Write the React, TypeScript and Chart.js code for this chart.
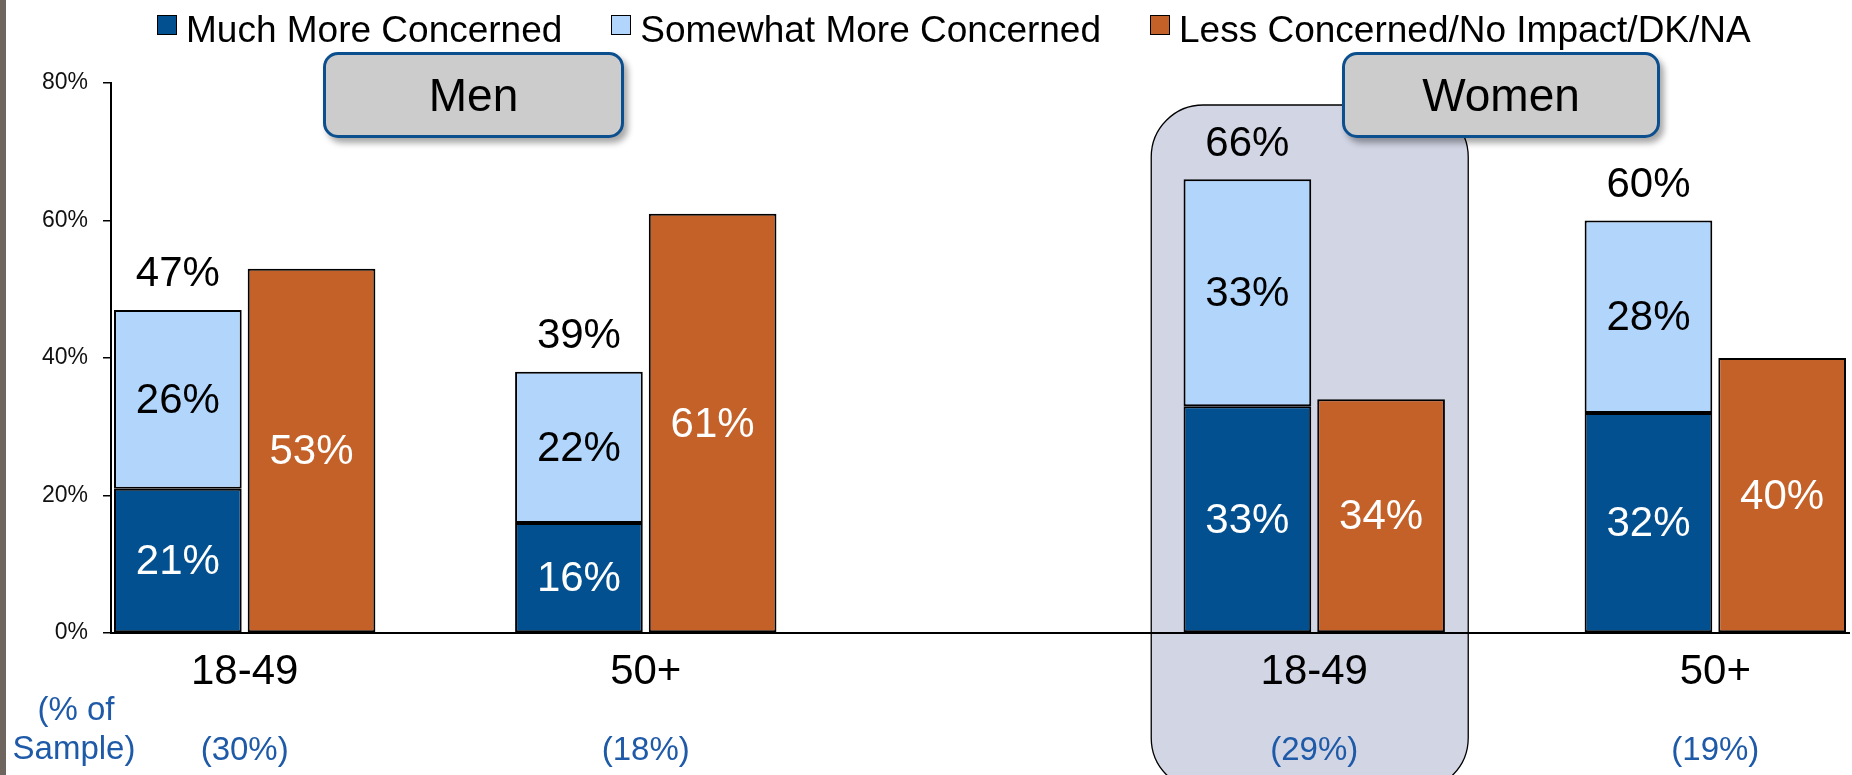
import React, { useEffect, useRef } from "react";
import { Chart, registerables } from "chart.js";

Chart.register(...registerables);

// ---------------- data ----------------
const categories = ["18-49", "50+", "18-49", "50+"];
const sampleShares = ["(30%)", "(18%)", "(29%)", "(19%)"];
const groupTitles = ["Men", "Women"];
const seriesNames = [
  "Much More Concerned",
  "Somewhat More Concerned",
  "Less Concerned/No Impact/DK/NA",
];
const muchMore = [21, 16, 33, 32];
const somewhatMore = [26, 22, 33, 28];
const lessConcerned = [53, 61, 34, 40];
const concernedTotals = [47, 39, 66, 60];
const yTickValues = [0, 20, 40, 60, 80];

// ---------------- styling ----------------
const FONT = '"Liberation Sans", Arial, Helvetica, sans-serif';
const colors = ["#02508f", "#b2d6fb", "#c46129"];
const labelColors = ["#ffffff", "#000000", "#ffffff"];
const SAMPLE_BLUE = "#1e5aa8";
const W = 1852;
const H = 775;

// slot layout: each bar occupies one category slot on the x axis
const EMPTY_BEFORE = [0, 1, 3, 1];
const stackSlot: number[] = [];
const lessSlot: number[] = [];
let slotCursor = 0;
categories.forEach((_, g) => {
  slotCursor += EMPTY_BEFORE[g];
  stackSlot.push(slotCursor);
  lessSlot.push(slotCursor + 1);
  slotCursor += 2;
});
const slotCount = slotCursor;
const slotLabels = Array.from({ length: slotCount }, (_, i) => String(i));

function spread(values: number[], slots: number[]) {
  const arr: (number | null)[] = Array(slotCount).fill(null);
  values.forEach((v, i) => (arr[slots[i]] = v));
  return arr;
}

const HIGHLIGHT_GROUP = 2;

const overlayPlugin = {
  id: "overlay",
  beforeDraw(chart: any) {
    const { ctx, scales } = chart;
    const x = scales.x;
    const cx =
      (x.getPixelForValue(stackSlot[HIGHLIGHT_GROUP]) +
        x.getPixelForValue(lessSlot[HIGHLIGHT_GROUP])) /
      2;
    const left = cx - 163;
    const right = cx + 154;
    const top = 105;
    const bottom = 790;
    const r = 52;
    ctx.save();
    ctx.beginPath();
    ctx.moveTo(left + r, top);
    ctx.lineTo(right - r, top);
    ctx.arcTo(right, top, right, top + r, r);
    ctx.lineTo(right, bottom - r);
    ctx.arcTo(right, bottom, right - r, bottom, r);
    ctx.lineTo(left + r, bottom);
    ctx.arcTo(left, bottom, left, bottom - r, r);
    ctx.lineTo(left, top + r);
    ctx.arcTo(left, top, left + r, top, r);
    ctx.closePath();
    ctx.fillStyle = "#d1d5e4";
    ctx.fill();
    ctx.lineWidth = 1.3;
    ctx.strokeStyle = "#000";
    ctx.stroke();
    ctx.restore();
  },
  afterDatasetsDraw(chart: any) {
    const { ctx, scales } = chart;
    const x = scales.x;
    ctx.save();
    ctx.textAlign = "center";
    ctx.textBaseline = "middle";
    ctx.font = `42px ${FONT}`;
    // values inside bars
    chart.data.datasets.forEach((ds: any, d: number) => {
      const meta = chart.getDatasetMeta(d);
      meta.data.forEach((el: any, i: number) => {
        const v = ds.data[i];
        if (v == null) return;
        const p = el.getProps(["x", "y", "base"], true);
        ctx.fillStyle = labelColors[d];
        ctx.fillText(`${v}%`, p.x, (p.y + p.base) / 2 + 2);
      });
    });
    // totals above stacked bars
    const topMeta = chart.getDatasetMeta(1);
    concernedTotals.forEach((t, g) => {
      const el = topMeta.data[stackSlot[g]];
      const p = el.getProps(["x", "y"], true);
      ctx.fillStyle = "#000";
      ctx.fillText(`${t}%`, p.x, p.y - 35);
    });
    // category labels and sample shares
    categories.forEach((c, g) => {
      const cx =
        (x.getPixelForValue(stackSlot[g]) + x.getPixelForValue(lessSlot[g])) / 2;
      ctx.font = `42px ${FONT}`;
      ctx.fillStyle = "#000";
      ctx.fillText(c, cx, 672);
      ctx.font = `33px ${FONT}`;
      ctx.fillStyle = SAMPLE_BLUE;
      ctx.fillText(sampleShares[g], cx, 751);
    });
    ctx.font = `33px ${FONT}`;
    ctx.fillStyle = SAMPLE_BLUE;
    ctx.fillText("(% of", 76, 711);
    ctx.fillText("Sample)", 74, 750);
    ctx.restore();
  },
};

export default function App() {
  const canvasRef = useRef<HTMLCanvasElement | null>(null);

  useEffect(() => {
    if (!canvasRef.current) return;
    const chart = new Chart(canvasRef.current, {
      type: "bar",
      data: {
        labels: slotLabels,
        datasets: [
          { label: seriesNames[0], data: spread(muchMore, stackSlot) },
          { label: seriesNames[1], data: spread(somewhatMore, stackSlot) },
          { label: seriesNames[2], data: spread(lessConcerned, lessSlot) },
        ].map((ds, i) => ({
          ...ds,
          backgroundColor: colors[i],
          borderColor: "#000",
          borderWidth: 2,
          borderSkipped: false,
          barPercentage: 0.955,
          categoryPercentage: 1,
        })) as any,
      },
      options: {
        responsive: false,
        animation: false,
        devicePixelRatio: 1,
        layout: { padding: { left: 0, top: 83, right: 3, bottom: 142 } },
        plugins: {
          legend: { display: false },
          tooltip: { enabled: false },
        },
        scales: {
          x: {
            type: "category",
            stacked: true,
            offset: true,
            ticks: { display: false },
            grid: {
              display: true,
              drawOnChartArea: false,
              drawTicks: false,
              color: "rgba(0,0,0,0)",
            },
            border: { display: true, color: "#000", width: 2 },
            afterFit: (s: any) => {
              s.height = 0;
              s.paddingLeft = 0;
              s.paddingRight = 0;
            },
          },
          y: {
            stacked: true,
            min: 0,
            max: 80,
            afterBuildTicks: (s: any) => {
              s.ticks = yTickValues.map((v) => ({ value: v }));
            },
            ticks: {
              callback: (v: any) => `${v}%`,
              font: { family: FONT, size: 23 },
              color: "#111",
              padding: 15,
            },
            grid: {
              drawOnChartArea: false,
              drawTicks: true,
              tickLength: 8,
              color: "#000",
              lineWidth: 1.5,
            },
            border: { display: true, color: "#000", width: 2 },
            afterFit: (s: any) => {
              s.width = 111;
              s.paddingTop = 0;
              s.paddingBottom = 0;
            },
          },
        },
      },
      plugins: [overlayPlugin],
    });
    return () => chart.destroy();
  }, []);

  const legendStyle: React.CSSProperties = {
    position: "absolute",
    left: 157,
    top: 8,
    display: "flex",
    alignItems: "flex-start",
    gap: 49,
    fontFamily: FONT,
    fontSize: 37,
    lineHeight: "43px",
    color: "#000",
    whiteSpace: "nowrap",
  };

  const boxStyle = (left: number, width: number): React.CSSProperties => ({
    position: "absolute",
    left,
    top: 52,
    width,
    height: 86,
    boxSizing: "border-box",
    border: "3.5px solid #0b4f8f",
    borderRadius: 15,
    background: "#cccccc",
    boxShadow: "4px 5px 6px rgba(0,0,0,0.35)",
    display: "flex",
    alignItems: "center",
    justifyContent: "center",
    fontFamily: FONT,
    fontSize: 46,
    color: "#000",
  });

  return (
    <div
      style={{
        position: "fixed",
        left: 0,
        top: 0,
        width: W,
        height: H,
        overflow: "hidden",
        background: "#fff",
      }}
    >
      <canvas
        ref={canvasRef}
        width={W}
        height={H}
        style={{ position: "absolute", left: 0, top: 0, width: W, height: H }}
      />
      <div
        style={{
          position: "absolute",
          left: 0,
          top: 0,
          width: 6,
          height: H,
          background: "#6e665e",
        }}
      />
      <div style={legendStyle}>
        {seriesNames.map((name, i) => (
          <div key={name} style={{ display: "flex", alignItems: "flex-start" }}>
            <span
              style={{
                display: "inline-block",
                width: 20,
                height: 20,
                boxSizing: "border-box",
                background: colors[i],
                border: "1.5px solid #000",
                marginRight: 9,
                marginTop: 7,
              }}
            />
            <span>{name}</span>
          </div>
        ))}
      </div>
      <div style={boxStyle(323, 301)}>{groupTitles[0]}</div>
      <div style={boxStyle(1342, 318)}>{groupTitles[1]}</div>
    </div>
  );
}
